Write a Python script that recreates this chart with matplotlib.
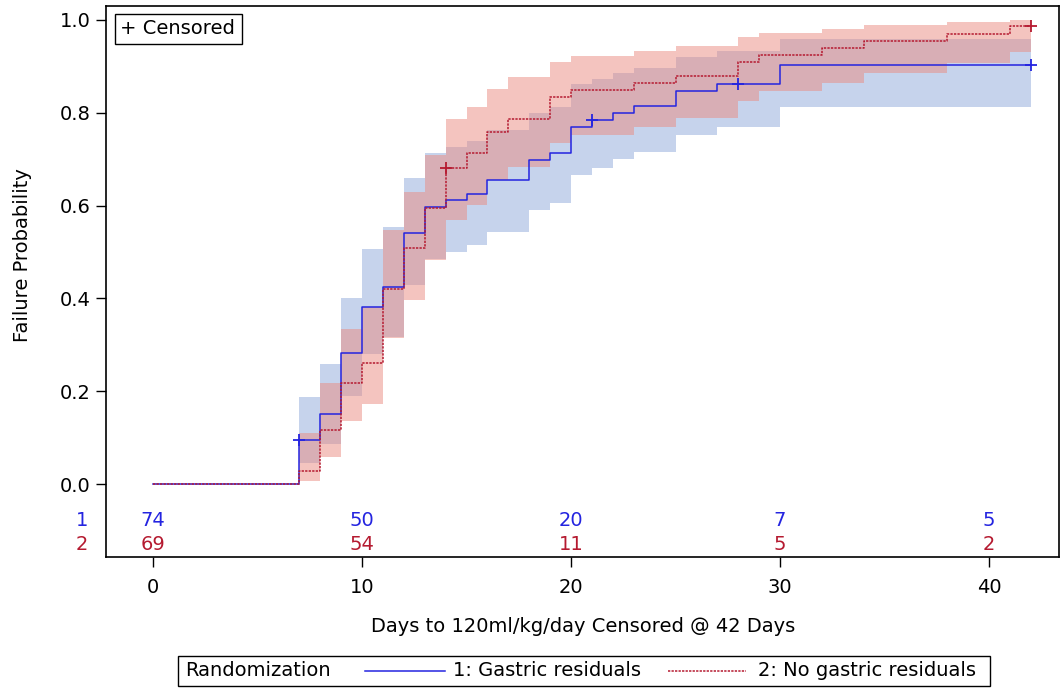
import matplotlib
matplotlib.use('Agg')
import matplotlib.pyplot as plt
from matplotlib.lines import Line2D
from matplotlib.patches import Rectangle

plt.rcParams['font.family'] = ['DejaVu Sans']
FS = 14

# group 1: gastric residuals
t1 = [0, 7, 8, 9, 10, 11, 12, 13, 14, 15, 16, 18, 19, 20, 21, 22, 23, 25, 27, 30, 42]
s1 = [0, 0.095, 0.152, 0.282, 0.382, 0.425, 0.540, 0.598, 0.612, 0.626, 0.655, 0.698,
      0.713, 0.770, 0.784, 0.800, 0.815, 0.847, 0.862, 0.902, 0.902]
hi1 = [0, 0.188, 0.258, 0.402, 0.506, 0.553, 0.660, 0.713, 0.727, 0.739, 0.763, 0.800,
       0.813, 0.861, 0.872, 0.885, 0.896, 0.920, 0.932, 0.959, 0.959]
lo1 = [0, 0.046, 0.086, 0.190, 0.280, 0.318, 0.429, 0.486, 0.501, 0.515, 0.544, 0.590,
       0.605, 0.666, 0.682, 0.700, 0.716, 0.752, 0.769, 0.812, 0.812]
cens1_t = [7, 21, 28, 42]
cens1_s = [0.095, 0.784, 0.862, 0.902]

# group 2: no gastric residuals
t2 = [0, 7, 8, 9, 10, 11, 12, 13, 14, 15, 16, 17, 19, 20, 23, 25, 28, 29, 32, 34, 38, 41, 42]
s2 = [0, 0.028, 0.116, 0.217, 0.260, 0.420, 0.508, 0.594, 0.682, 0.713, 0.758, 0.787,
      0.833, 0.849, 0.864, 0.879, 0.909, 0.925, 0.940, 0.955, 0.970, 0.986, 0.986]
hi2 = [0, 0.111, 0.218, 0.334, 0.382, 0.547, 0.630, 0.710, 0.787, 0.813, 0.851, 0.876,
       0.910, 0.922, 0.933, 0.944, 0.963, 0.971, 0.980, 0.988, 0.995, 1.000, 1.000]
lo2 = [0, 0.007, 0.059, 0.136, 0.172, 0.314, 0.397, 0.483, 0.570, 0.601, 0.655, 0.683,
       0.734, 0.752, 0.770, 0.788, 0.825, 0.846, 0.865, 0.886, 0.907, 0.930, 0.930]
cens2_t = [14, 42]
cens2_s = [0.682, 0.986]

# numbers at risk
risk_t = [0, 10, 20, 30, 40]
risk1 = [74, 50, 20, 7, 5]
risk2 = [69, 54, 11, 5, 2]

blue = '#2424E0'
red = '#B51A30'
blue_band = '#8FA8DA'
red_band = '#EA8A80'

W, H = 1062, 688
fig = plt.figure(figsize=(W / 100, H / 100), dpi=100)
ax = fig.add_axes([106 / W, 1 - 557 / H, (1059 - 106) / W, (557 - 6) / H])

# bands start at the first event (day 7)
ax.fill_between(t1[1:], lo1[1:], hi1[1:], step='post', color=blue_band, alpha=0.5, lw=0)
ax.fill_between(t2[1:], lo2[1:], hi2[1:], step='post', color=red_band, alpha=0.5, lw=0)

ax.step(t1, s1, where='post', color=blue, lw=1.1)
ax.step(t2, s2, where='post', color=red, lw=1.1, linestyle=(0, (1.5, 0.8)))
ax.plot(cens1_t, cens1_s, ls='none', marker='+', ms=9, mew=1.3, color=blue)
ax.plot(cens2_t, cens2_s, ls='none', marker='+', ms=9, mew=1.3, color=red)

ax.set_xlim(-2.25, 43.35)
ax.set_ylim(-0.157, 1.030)
ax.set_xticks([0, 10, 20, 30, 40])
ax.set_yticks([0.0, 0.2, 0.4, 0.6, 0.8, 1.0])
ax.set_yticklabels(['0.0', '0.2', '0.4', '0.6', '0.8', '1.0'])
ax.tick_params(axis='x', direction='out', length=7, width=1, labelsize=FS, pad=8)
ax.tick_params(axis='y', direction='out', length=7, width=1, labelsize=FS, pad=4)
for sp in ax.spines.values():
    sp.set_linewidth(1.2)

ax.set_ylabel('Failure Probability', fontsize=FS)
ax.yaxis.set_label_coords(-0.078, 0.548)
ax.set_xlabel('Days to 120ml/kg/day Censored @ 42 Days', fontsize=FS)
ax.xaxis.label.set_va('center')
ax.xaxis.set_label_coords(0.5005, -0.127)

for x, a, b in zip(risk_t, risk1, risk2):
    ax.text(x, -0.078, str(a), color=blue, fontsize=FS, ha='center', va='center')
    ax.text(x, -0.131, str(b), color=red, fontsize=FS, ha='center', va='center')
ax.text(-3.4, -0.078, '1', color=blue, fontsize=FS, ha='center', va='center', clip_on=False)
ax.text(-3.4, -0.131, '2', color=red, fontsize=FS, ha='center', va='center', clip_on=False)

# censored key box
fig.patches.append(Rectangle((115 / W, 1 - 44 / H), (242 - 115) / W, 30 / H,
                             transform=fig.transFigure, fc='white', ec='black', lw=1.0,
                             zorder=5))
fig.text(120 / W, 1 - 29 / H, '+ Censored', fontsize=FS, ha='left', va='center', zorder=6)

# legend at bottom
fig.patches.append(Rectangle((178 / W, 1 - 686 / H), (990 - 178) / W, 30 / H,
                             transform=fig.transFigure, fill=False, ec='black', lw=1.0))
ly = 1 - 671 / H
fig.text(185 / W, ly, 'Randomization', fontsize=FS, ha='left', va='center')
fig.lines.append(Line2D([365 / W, 445 / W], [ly, ly], transform=fig.transFigure,
                        color=blue, lw=1.1))
fig.text(453 / W, ly, '1: Gastric residuals', fontsize=FS, ha='left', va='center')
fig.lines.append(Line2D([668 / W, 746 / W], [ly, ly], transform=fig.transFigure,
                        color=red, lw=1.1, linestyle=(0, (1.5, 0.8))))
fig.text(758 / W, ly, '2: No gastric residuals', fontsize=FS, ha='left', va='center')

fig.savefig('out.png', dpi=100)
